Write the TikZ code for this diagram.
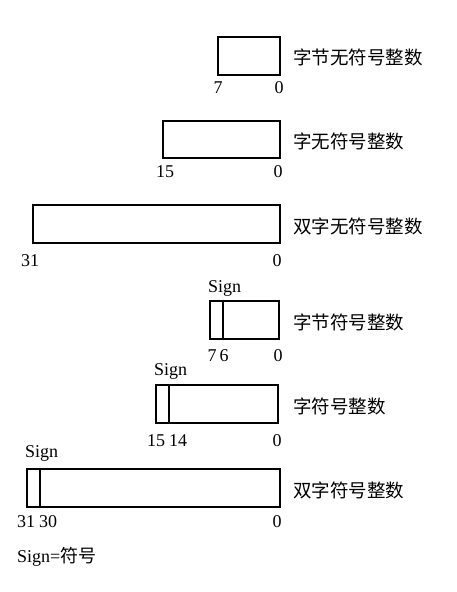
\documentclass[tikz,border=0pt]{standalone}
\usepackage{fontspec}
\setmainfont{Liberation Serif}
\newfontfamily\cjk{Noto Sans CJK SC}
\begin{document}
\begin{tikzpicture}[x=1pt,y=-1pt,
  regbox/.style={draw=black, line width=2pt},
  divline/.style={draw=black, line width=2pt},
  numlbl/.style={inner sep=0pt, anchor=base, font=\fontsize{18}{18}\selectfont},
  signlbl/.style={inner sep=0pt, anchor=base west, font=\fontsize{18}{18}\selectfont},
  cnlbl/.style={inner sep=0pt, anchor=west, font=\fontsize{18.5}{18.5}\selectfont\cjk}]
\path[use as bounding box, fill=white] (0,0) rectangle (457,592);
% box 1
\draw[regbox] (218,37) rectangle (280,75);
\node[numlbl] (n1a) at (218,93) {7};
\node[numlbl] (n1b) at (279,93) {0};
\node[cnlbl] (t1) at (293,57) {字节无符号整数};
% box 2
\draw[regbox] (163,121) rectangle (280,158);
\node[numlbl] (n2a) at (165,177) {15};
\node[numlbl] (n2b) at (278,177) {0};
\node[cnlbl] (t2) at (293,141) {字无符号整数};
% box 3
\draw[regbox] (33,205) rectangle (280,243);
\node[numlbl] (n3a) at (30,266) {31};
\node[numlbl] (n3b) at (277,266) {0};
\node[cnlbl] (t3) at (293,226) {双字无符号整数};
% box 4
\node[signlbl] (s4) at (208,292) {Sign};
\draw[regbox] (210,301) rectangle (279,339);
\draw[divline] (223,301) -- (223,339);
\node[numlbl] (n4a) at (212,361) {7};
\node[numlbl] (n4c) at (224,361) {6};
\node[numlbl] (n4b) at (278,361) {0};
\node[cnlbl] (t4) at (293,322) {字节符号整数};
% box 5
\node[signlbl] (s5) at (154,375) {Sign};
\draw[regbox] (156,385) rectangle (278,423);
\draw[divline] (169,385) -- (169,423);
\node[numlbl] (n5a) at (156,446) {15};
\node[numlbl] (n5c) at (178,446) {14};
\node[numlbl] (n5b) at (277,446) {0};
\node[cnlbl] (t5) at (293,406) {字符号整数};
% box 6
\node[signlbl] (s6) at (25,457) {Sign};
\draw[regbox] (27,469) rectangle (280,507);
\draw[divline] (40,469) -- (40,507);
\node[numlbl] (n6a) at (26,527) {31};
\node[numlbl] (n6c) at (48,527) {30};
\node[numlbl] (n6b) at (277,527) {0};
\node[cnlbl] (t6) at (293,490) {双字符号整数};
% legend
\node[signlbl] (leg) at (17,562) {Sign={\cjk 符号}};
\end{tikzpicture}
\end{document}
